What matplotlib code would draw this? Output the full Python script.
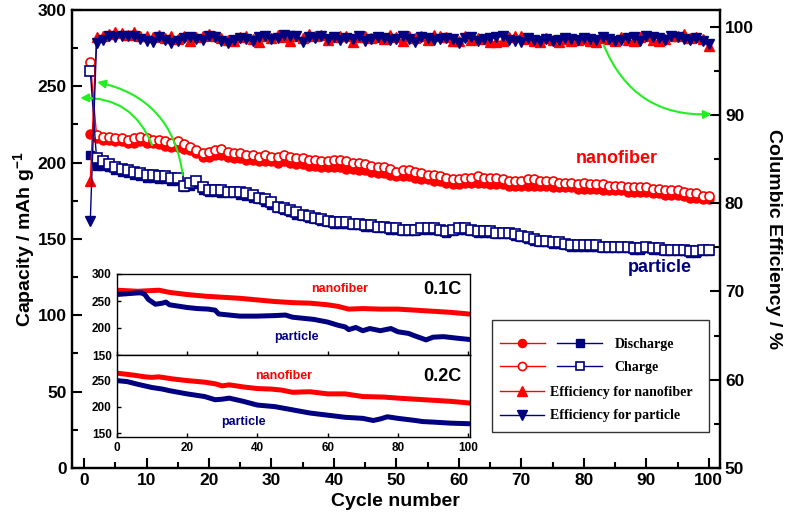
import matplotlib
matplotlib.use("Agg")
import matplotlib.pyplot as plt
from matplotlib.legend_handler import HandlerTuple
from matplotlib.patches import Rectangle
import numpy as np

plt.rcParams['font.family'] = ['Liberation Sans', 'DejaVu Sans']
plt.rcParams['font.weight'] = 'bold'
plt.rcParams['mathtext.fontset'] = 'custom'
plt.rcParams['mathtext.bf'] = 'Liberation Sans:bold'
plt.rcParams['mathtext.rm'] = 'Liberation Sans:bold'

RED = '#ff0000'
NAVY = '#000080'
GREEN = '#22ee22'

cycles = np.arange(1, 101)

# capacity, mAh/g
nf_charge = [266, 218, 217, 217, 216, 216, 215, 216, 217, 216,
             215, 215, 214, 213, 214, 212, 210, 208, 206, 207,
             208, 209, 207, 206, 206, 205, 205, 204, 205, 204,
             204, 205, 204, 203, 203, 202, 202, 201, 201, 202,
             202, 201, 200, 200, 199, 198, 197, 197, 196, 194,
             195, 195, 194, 193, 192, 192, 191, 190, 189, 189,
             190, 190, 191, 190, 190, 190, 189, 188, 188, 188,
             189, 189, 188, 188, 188, 187, 187, 187, 186, 187,
             186, 186, 186, 185, 185, 185, 184, 184, 184, 184,
             183, 183, 182, 182, 182, 181, 180, 180, 178, 178]
nf_discharge = [219, 216, 215, 215, 214, 214, 213, 213, 214, 213,
                213, 212, 211, 210, 210, 209, 208, 206, 204, 204,
                205, 205, 204, 203, 203, 202, 202, 201, 201, 201,
                200, 201, 200, 199, 199, 198, 198, 197, 197, 197,
                197, 196, 196, 195, 195, 194, 193, 193, 192, 191,
                191, 191, 190, 189, 189, 188, 188, 187, 186, 186,
                187, 187, 187, 187, 186, 186, 186, 185, 185, 185,
                185, 185, 185, 185, 184, 184, 184, 184, 183, 183,
                183, 183, 182, 182, 182, 182, 181, 181, 181, 181,
                180, 180, 179, 179, 179, 178, 177, 177, 176, 176]
pt_charge = [260, 203, 201, 199, 197, 196, 195, 194, 193, 192,
             192, 191, 191, 190, 190, 185, 187, 188, 184, 182,
             182, 182, 181, 181, 181, 180, 179, 177, 176, 174,
             171, 170, 169, 168, 166, 165, 164, 163, 162, 161,
             161, 161, 160, 160, 159, 159, 158, 158, 157, 157,
             156, 156, 156, 157, 157, 157, 156, 155, 156, 157,
             157, 156, 155, 155, 155, 154, 154, 154, 153, 152,
             151, 150, 149, 149, 148, 148, 147, 146, 146, 146,
             146, 146, 145, 145, 145, 145, 145, 144, 144, 145,
             144, 144, 143, 143, 143, 143, 142, 142, 143, 143]
pt_discharge = [205, 198, 198, 197, 195, 194, 193, 192, 191, 190,
                190, 189, 189, 188, 188, 184, 185, 186, 182, 181,
                181, 180, 180, 180, 179, 178, 177, 176, 174, 172,
                170, 169, 168, 166, 165, 164, 163, 162, 161, 160,
                160, 160, 159, 159, 158, 158, 157, 157, 156, 156,
                155, 155, 155, 156, 156, 156, 155, 154, 155, 156,
                156, 155, 154, 154, 154, 153, 153, 153, 152, 151,
                150, 149, 148, 148, 147, 147, 146, 145, 145, 145,
                145, 145, 144, 144, 144, 144, 144, 143, 143, 144,
                143, 143, 142, 142, 142, 142, 141, 141, 142, 142]

# coulombic efficiency, %
eff_nf = [82.5, 98.8, 99.0, 99.2, 99.4, 99.3, 99.1, 99.4, 99.0, 98.9,
          98.8, 99.1, 98.7, 99.0, 98.6, 98.9, 98.4, 98.8, 98.9, 99.2,
          99.0, 98.7, 98.5, 98.4, 98.8, 99.0, 98.6, 98.3, 98.9, 98.7,
          99.1, 98.8, 98.4, 98.9, 98.7, 99.2, 99.0, 99.1, 98.5, 98.8,
          98.9, 99.0, 98.3, 98.8, 99.0, 98.7, 98.8, 98.6, 99.1, 98.8,
          98.4, 99.0, 98.7, 98.9, 98.5, 99.1, 99.0, 98.8, 98.4, 98.4,
          98.9, 98.5, 98.7, 98.6, 98.3, 98.3, 98.4, 98.8, 99.0, 98.9,
          98.6, 98.4, 98.3, 98.7, 98.5, 98.3, 98.6, 98.4, 98.5, 98.6,
          98.4, 98.3, 98.7, 98.6, 98.4, 98.8, 98.5, 98.4, 98.8, 99.0,
          98.5, 98.4, 98.6, 99.0, 98.9, 99.2, 98.7, 98.8, 98.6, 97.8]
eff_pt = [78.0, 98.2, 98.5, 98.9, 98.8, 99.0, 98.9, 99.0, 98.6, 98.4,
          98.3, 98.8, 98.5, 98.2, 98.4, 98.7, 98.8, 98.6, 98.5, 99.0,
          98.8, 98.4, 98.2, 98.5, 98.7, 98.6, 98.4, 98.8, 98.9, 98.6,
          98.7, 99.1, 99.0, 98.9, 98.3, 98.8, 98.7, 98.9, 98.6, 98.8,
          98.5, 98.7, 98.6, 98.9, 98.4, 98.6, 98.8, 98.7, 98.5, 98.6,
          98.9, 98.6, 98.3, 98.8, 98.7, 98.5, 98.6, 98.7, 98.6, 98.2,
          98.7, 98.8, 98.4, 98.6, 98.7, 98.8, 98.9, 98.5, 98.4, 98.3,
          98.7, 98.5, 98.4, 98.6, 98.4, 98.5, 98.7, 98.6, 98.5, 98.7,
          98.6, 98.5, 98.8, 98.6, 98.4, 98.5, 98.7, 98.8, 98.4, 98.9,
          98.8, 98.7, 98.5, 98.9, 98.8, 98.6, 98.5, 98.7, 98.4, 98.0]

# inset: 0.1C and 0.2C capacity curves
ins_x_nf1 = [0, 3, 6, 9, 12, 15, 20, 25, 30, 35, 40, 45, 50, 55, 60, 63, 66, 70, 75, 80, 85, 90, 95, 100]
ins_nf1 = [270, 269, 268, 269, 270, 266, 262, 259, 257, 255, 252, 249, 247, 246, 243, 240, 235, 236, 235, 235, 233, 231, 229, 226]
ins_x_pt1 = [0, 2, 4, 6, 7, 8, 9, 11, 13, 14, 15, 18, 20, 23, 26, 28, 29, 32, 35, 40, 45, 48, 50, 53, 56,
             60, 63, 65, 66, 68, 70, 72, 75, 78, 80, 83, 85, 88, 90, 93, 97, 100]
ins_pt1 = [262, 263, 264, 265, 265, 262, 253, 244, 246, 248, 243, 240, 238, 236, 235, 233, 226, 224, 222, 222, 223, 224, 220, 218, 216,
           211, 205, 202, 197, 201, 195, 199, 195, 199, 193, 190, 185, 178, 183, 184, 181, 179]
ins_x_nf2 = [0, 5, 8, 10, 12, 16, 20, 25, 28, 30, 32, 36, 40, 44, 47, 50, 55, 60, 65, 70, 76, 80, 85, 90, 95, 100]
ins_nf2 = [263, 259, 256, 255, 256, 252, 249, 246, 243, 239, 241, 237, 234, 233, 231, 227, 228, 224, 224, 219, 218, 216, 214, 212, 210, 207]
ins_x_pt2 = [0, 3, 6, 10, 13, 15, 20, 25, 28, 30, 32, 36, 40, 45, 50, 55, 60, 65, 70, 73, 75, 77, 80, 85, 87, 90, 95, 100]
ins_pt2 = [249, 247, 242, 236, 233, 230, 224, 219, 213, 214, 216, 210, 203, 200, 194, 188, 184, 180, 178, 174, 177, 181, 178, 174, 172, 171, 169, 168]

fig = plt.figure(figsize=(7.87, 5.26), dpi=100)
ax = fig.add_axes([0.0909, 0.1103, 0.8240, 0.8707])
ax2 = ax.twinx()

ms = 6.5
l_nfd, = ax.plot(cycles, nf_discharge, '-o', color=RED, mfc=RED, mec=RED, ms=ms, lw=1)
l_nfc, = ax.plot(cycles, nf_charge, '-o', color=RED, mfc='white', mec=RED, mew=1.2, ms=ms, lw=1)
l_ptd, = ax.plot(cycles, pt_discharge, '-s', color=NAVY, mfc=NAVY, mec=NAVY, ms=6, lw=1)
l_ptc, = ax.plot(cycles, pt_charge, '-s', color=NAVY, mfc='white', mec=NAVY, mew=1.2, ms=6.5, lw=1)
l_enf, = ax2.plot(cycles, eff_nf, '-^', color=RED, mfc=RED, mec=RED, ms=7.5, lw=1)
l_ept, = ax2.plot(cycles, eff_pt, '-v', color=NAVY, mfc=NAVY, mec=NAVY, ms=7.5, lw=1)

ax.set_xlim(-2, 101.8)
ax.set_ylim(0, 300)
ax2.set_ylim(50, 101.9)
ax.set_xticks(np.arange(0, 101, 10))
ax.set_xticks(np.arange(0, 101, 5), minor=True)
ax.set_yticks(np.arange(0, 301, 50))
ax.set_yticks(np.arange(0, 301, 25), minor=True)
ax2.set_yticks(np.arange(50, 101, 10))
ax2.set_yticks(np.arange(50, 101, 5), minor=True)

for a in (ax, ax2):
    for s in a.spines.values():
        s.set_linewidth(1.6)
ax.tick_params(which='both', direction='in', width=1.5, labelsize=12.5, top=False, right=False)
ax.tick_params(which='major', length=7)
ax.tick_params(which='minor', length=4)
ax2.tick_params(which='both', direction='in', width=1.5, labelsize=12.5)
ax2.tick_params(which='major', length=7)
ax2.tick_params(which='minor', length=4)

ax.set_xlabel('Cycle number', fontsize=14, fontweight='bold', labelpad=4)
ax.set_ylabel(r'Capacity / mAh g$^{\mathbf{-1}}$', fontsize=14, fontweight='bold', labelpad=0)
ax2.set_ylabel('Columbic Efficiency / %', fontsize=14, fontweight='bold', rotation=270, labelpad=20)

ax.text(85.3, 203, 'nanofiber', color=RED, fontsize=13, fontweight='bold', ha='center', va='center')
ax.text(92.2, 131, 'particle', color=NAVY, fontsize=13, fontweight='bold', ha='center', va='center')

arrow = dict(arrowstyle='-|>', color=GREEN, lw=1.5, mutation_scale=12, shrinkA=0, shrinkB=0)
ax.annotate('', xy=(2.1, 252.8), xytext=(15.8, 191.9),
            arrowprops=dict(arrow, connectionstyle='arc3,rad=0.35'))
ax.annotate('', xy=(-0.6, 242.3), xytext=(10.9, 211.5),
            arrowprops=dict(arrow, connectionstyle='arc3,rad=0.35'))
ax2.annotate('', xy=(100.5, 90.1), xytext=(83.2, 97.9),
             arrowprops=dict(arrow, connectionstyle='arc3,rad=0.35'))

# legend: framed box with two frameless legends inside
box = Rectangle((0.648, 0.079), 0.335, 0.244, transform=ax2.transAxes,
                facecolor='white', edgecolor='#333333', lw=1.0, zorder=5)
ax2.add_patch(box)
leg_font = {'family': 'Liberation Serif', 'weight': 'bold', 'size': 10}
leg1 = ax2.legend([(l_nfd, l_ptd), (l_nfc, l_ptc)], ['Discharge', 'Charge'],
                  handler_map={tuple: HandlerTuple(ndivide=None, pad=0.9)},
                  loc='upper left', bbox_to_anchor=(0.66, 0.284), frameon=False,
                  prop=leg_font, handlelength=7.4, handletextpad=0.9, labelspacing=0.75,
                  borderpad=0, borderaxespad=0, numpoints=1, markerscale=0.9)
leg1.set_zorder(6)
ax2.add_artist(leg1)
leg2 = ax2.legend([l_enf, l_ept], ['Efficiency for nanofiber', 'Efficiency for particle'],
                  loc='upper left', bbox_to_anchor=(0.66, 0.179), frameon=False,
                  prop=leg_font, handlelength=3.2, handletextpad=0.4, labelspacing=0.75,
                  borderpad=0, borderaxespad=0, numpoints=1, markerscale=0.9)
leg2.set_zorder(6)

# inset
w_in = (470 - 116.7) / 787
ins1 = fig.add_axes([116.7 / 787, 1 - 355 / 526, w_in, 81 / 526])
ins2 = fig.add_axes([116.7 / 787, 1 - 437 / 526, w_in, 82 / 526])
for a in (ins1, ins2):
    a.set_facecolor('white')
    a.set_zorder(10)
    a.set_xlim(0, 100.5)
    a.tick_params(direction='in', length=3, width=1, labelsize=8.5)
    for s in a.spines.values():
        s.set_linewidth(1.0)
ins1.plot(ins_x_nf1, ins_nf1, color=RED, lw=3.6)
ins1.plot(ins_x_pt1, ins_pt1, color=NAVY, lw=3.6)
ins2.plot(ins_x_nf2, ins_nf2, color=RED, lw=3.6)
ins2.plot(ins_x_pt2, ins_pt2, color=NAVY, lw=3.6)
ins1.set_ylim(150, 300)
ins1.set_yticks([150, 200, 250, 300])
ins1.set_xticks(np.arange(0, 101, 20))
ins1.tick_params(labelbottom=False)
ins2.set_ylim(143, 297)
ins2.set_yticks([150, 200, 250])
ins2.set_xticks(np.arange(0, 101, 20))

ins1.text(63.5, 271.5, 'nanofiber', color=RED, fontsize=9, fontweight='bold', ha='center', va='center')
ins1.text(51.2, 182.7, 'particle', color=NAVY, fontsize=9, fontweight='bold', ha='center', va='center')
ins1.text(98, 271, '0.1C', color='black', fontsize=13, fontweight='bold', ha='right', va='center')
ins2.text(47.5, 257.5, 'nanofiber', color=RED, fontsize=9, fontweight='bold', ha='center', va='center')
ins2.text(36, 172, 'particle', color=NAVY, fontsize=9, fontweight='bold', ha='center', va='center')
ins2.text(98, 256, '0.2C', color='black', fontsize=13, fontweight='bold', ha='right', va='center')

fig.savefig('out.png', dpi=100)
plt.close(fig)
